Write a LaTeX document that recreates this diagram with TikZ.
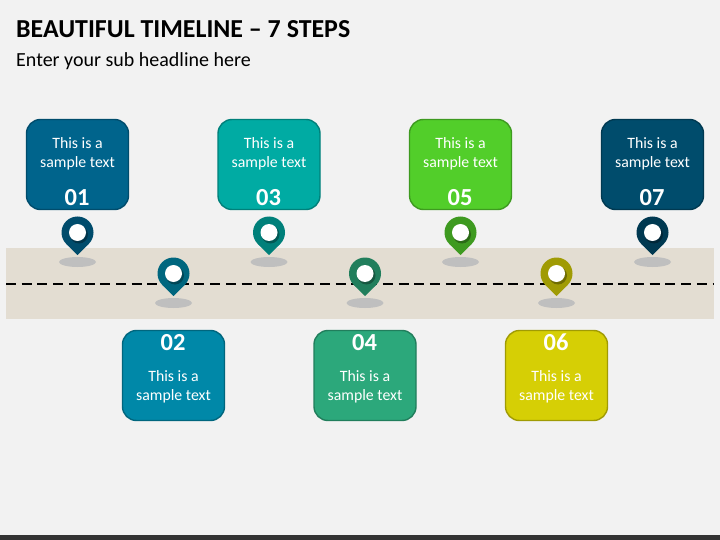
\documentclass[tikz,border=0pt]{standalone}
\usepackage{fontspec}
\setmainfont{Carlito}
\definecolor{pagebg}{HTML}{F2F2F2}
\definecolor{bandbg}{HTML}{E3DDD2}
\definecolor{footbar}{HTML}{333333}
\definecolor{pinshade}{HTML}{BFBFBF}
\definecolor{cola}{HTML}{00648C}
\definecolor{colb}{HTML}{0088A8}
\definecolor{colc}{HTML}{00ABA3}
\definecolor{cold}{HTML}{2CA87B}
\definecolor{cole}{HTML}{52CE2A}
\definecolor{colf}{HTML}{D6CF05}
\definecolor{colg}{HTML}{004C6C}
\definecolor{pina}{HTML}{004C6C}
\definecolor{pinb}{HTML}{00667E}
\definecolor{pinc}{HTML}{00807A}
\definecolor{pind}{HTML}{217E5C}
\definecolor{pine}{HTML}{3E9A20}
\definecolor{pinf}{HTML}{A09B04}
\definecolor{ping}{HTML}{003951}
\tikzset{
  textbox/.style={draw=pin#1,fill=col#1,line width=1.4pt,rounded corners=14pt,
    minimum width=102pt,minimum height=90pt,inner sep=0pt},
  boxtext/.style={text=white,font=\fontsize{15.8}{19}\selectfont,align=center,inner sep=0pt},
  boxnum/.style={anchor=base,text=white,font=\fontsize{24.5}{26}\selectfont\bfseries,inner sep=0pt},
  hole/.style={circle,fill=white,minimum size=17pt,inner sep=0pt}
}
\begin{document}
\begin{tikzpicture}[x=1pt,y=-1pt]
\useasboundingbox (0,0) rectangle (720,540);
\fill[pagebg] (0,0) rectangle (720,540);
\fill[footbar] (0,535) rectangle (720,540);

% title lines
\node[anchor=base west,inner sep=0pt,font=\fontsize{25.9}{28}\selectfont\bfseries] (title) at (16,38) {BEAUTIFUL TIMELINE -- 7 STEPS};
\node[anchor=base west,inner sep=0pt,font=\fontsize{20}{24}\selectfont] (subtitle) at (16,66.5) {Enter your sub headline here};

% band and dashed line
\fill[bandbg] (6,248) rectangle (714,319);
\coordinate (lineL) at (6,284);
\coordinate (lineR) at (714,284);
\draw[black,line width=2pt,dash pattern=on 10pt off 5.7pt] (lineL) -- (lineR);

% upper steps
\foreach \x/\n/\c in {77.5/1/a,269/3/c,460.5/5/e,652.5/7/g}{
  \node[textbox=\c] (box\n) at (\x,164.5) {};
  \node[boxtext] (text\n) at (\x,153.5) {This is a\\sample text};
  \node[boxnum] (num\n) at (\x-.5,206) {0\n};
  \fill[pinshade] (\x,262) ellipse (18.5 and 5);
  \fill[pin\c] (\x,232.5) circle (16);
  \fill[pin\c] (\x-11.3,243.8) -- (\x,255) -- (\x+11.3,243.8) -- cycle;
  \fill[black,opacity=.3] (\x+1.5,234.5) circle (9);
  \node[hole] (hole\n) at (\x,232.5) {};
}

% lower steps
\foreach \x/\n/\c in {173.5/2/b,365/4/d,556.5/6/f}{
  \node[textbox=\c] (box\n) at (\x,375.5) {};
  \node[boxtext] (text\n) at (\x,386.5) {This is a\\sample text};
  \node[boxnum] (num\n) at (\x-.5,350) {0\n};
  \fill[pinshade] (\x,303) ellipse (18.5 and 5);
  \fill[pin\c] (\x,273.5) circle (16);
  \fill[pin\c] (\x-11.3,284.8) -- (\x,296) -- (\x+11.3,284.8) -- cycle;
  \fill[black,opacity=.3] (\x+1.5,275.5) circle (9);
  \node[hole] (hole\n) at (\x,273.5) {};
}
\end{tikzpicture}
\end{document}
